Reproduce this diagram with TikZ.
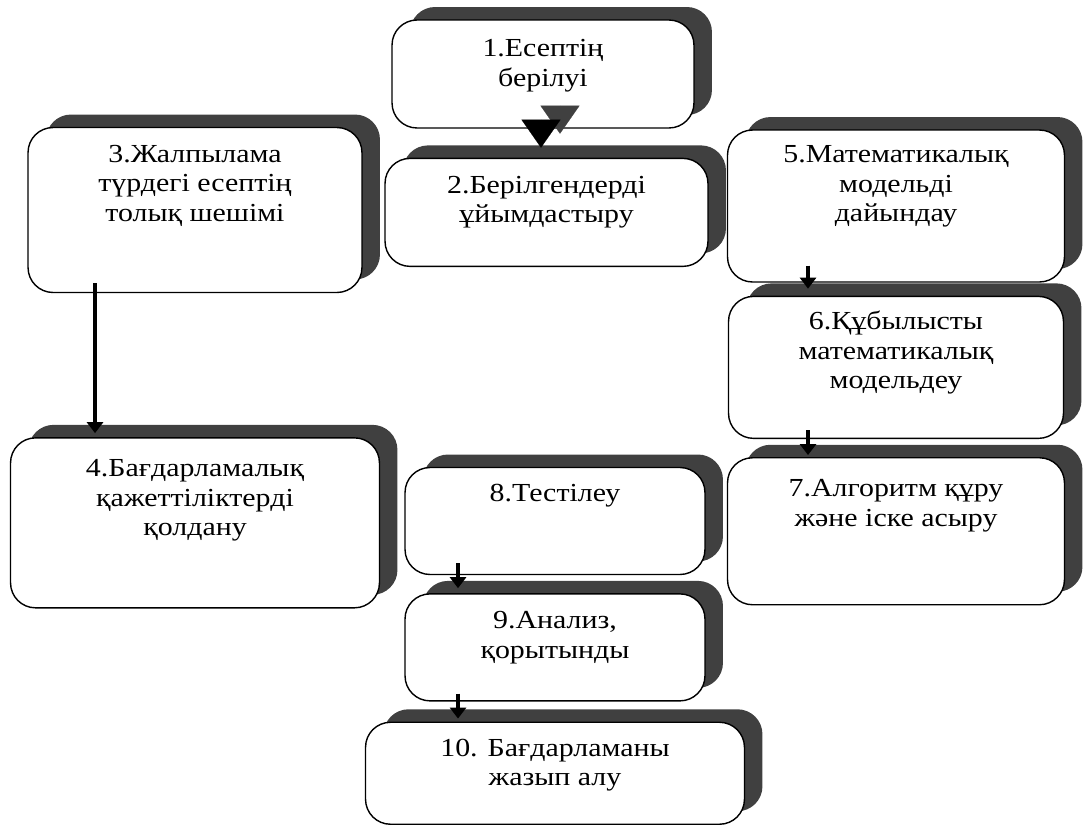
\documentclass[tikz,border=0pt]{standalone}
\usepackage{fontspec}
\setmainfont{Liberation Serif}[FakeStretch=1.15]
\usetikzlibrary{positioning,shadows,arrows.meta}

\tikzset{
  box/.style={draw=black,line width=0.8pt,fill=white,rounded corners=0.5cm,
    drop shadow={shadow xshift=0.36cm,shadow yshift=0.26cm,fill=black!75,opacity=1}},
  txt/.style={anchor=north,align=center,inner sep=0pt,
    font=\fontsize{14.8}{16.8}\selectfont},
  arr/.style={line width=2.2pt,-{Triangle[width=0.32cm,length=0.22cm]}},
  bigarr/.style={line width=0.1pt,-{Triangle[width=0.78cm,length=0.56cm]}}
}

\begin{document}
\begin{tikzpicture}[x=0.02cm,y=-0.02cm]
\useasboundingbox (0,0) rectangle (1083,825);

% middle column
\node[box,minimum width=6.04cm,minimum height=2.16cm] (b1) at (543,74) {};
\node[box,minimum width=6.46cm,minimum height=2.16cm,below=0.58cm of b1,xshift=0.07cm] (b2) {};
% left column
\node[box,minimum width=6.68cm,minimum height=3.30cm] (b3) at (195,210) {};
\node[box,minimum width=7.38cm,minimum height=3.40cm,below=2.88cm of b3] (b4) {};
% right column
\node[box,minimum width=6.74cm,minimum height=3.04cm] (b5) at (896,206) {};
\node[box,minimum width=6.70cm,minimum height=2.84cm,below=0.26cm of b5] (b6) {};
\node[box,minimum width=6.74cm,minimum height=2.94cm,below=0.36cm of b6] (b7) {};
% bottom column
\node[box,minimum width=6.00cm,minimum height=2.14cm] (b8) at (555,521) {};
\node[box,minimum width=6.00cm,minimum height=2.14cm,below=0.36cm of b8] (b9) {};
\node[box,minimum width=7.58cm,minimum height=2.04cm,below=0.40cm of b9] (b10) {};

\node[txt,below=0.40cm of b1.north] (t1) {1.Есептің\\берілуі};
\node[txt,below=0.36cm of b2.north] (t2) {2.Берілгендерді\\ұйымдастыру};
\node[txt,below=0.36cm of b3.north] (t3) {3.Жалпылама\\түрдегі есептің\\толық шешімі};
\node[txt,below=0.44cm of b4.north] (t4) {4.Бағдарламалық\\қажеттіліктерді\\қолдану};
\node[txt,below=0.32cm of b5.north] (t5) {5.Математикалық\\модельді\\дайындау};
\node[txt,below=0.30cm of b6.north] (t6) {6.Құбылысты\\математикалық\\модельдеу};
\node[txt,below=0.44cm of b7.north] (t7) {7.Алгоритм құру\\және іске асыру};
\node[txt,below=0.34cm of b8.north] (t8) {8.Тестілеу};
\node[txt,below=0.36cm of b9.north] (t9) {9.Анализ,\\қорытынды};
\node[txt,below=0.34cm of b10.north] (t10) {10. Бағдарламаны\\жазып алу};

% arrows
\draw[bigarr,black!75] ([xshift=0.34cm,yshift=0.46cm]b1.south) -- ([xshift=0.34cm,yshift=-0.1cm]b1.south);
\draw[bigarr] ([xshift=-0.04cm,yshift=0.18cm]b1.south) -- ([xshift=-0.04cm,yshift=-0.38cm]b1.south);
\draw[arr] ([xshift=-2.0cm,yshift=0.2cm]b3.south) -- ([xshift=-2.0cm,yshift=0.08cm]b4.north);
\draw[arr] ([xshift=-1.76cm,yshift=0.34cm]b5.south) -- ([xshift=-1.76cm,yshift=0.14cm]b6.north);
\draw[arr] ([xshift=-1.76cm,yshift=0.18cm]b6.south) -- ([xshift=-1.76cm,yshift=0.04cm]b7.north);
\draw[arr] ([xshift=-1.94cm,yshift=0.24cm]b8.south) -- ([xshift=-1.94cm,yshift=0.1cm]b9.north);
\draw[arr] ([xshift=-1.94cm,yshift=0.16cm]b9.south) -- ([xshift=-1.94cm,yshift=0.06cm]b10.north);
\end{tikzpicture}
\end{document}
